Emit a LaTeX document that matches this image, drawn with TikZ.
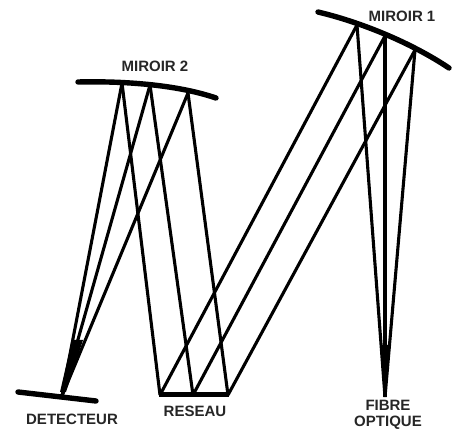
\documentclass[tikz,border=0pt]{standalone}
\usepackage{fontspec}
\setmainfont{Liberation Sans}
\tikzset{
  ray/.style={line width=3.1pt,black},
  mirror/.style={line width=5.4pt,black,line cap=round},
  lab/.style={font=\fontsize{15}{16.5}\selectfont\bfseries,text=black!85,inner sep=0pt,align=center}
}
\begin{document}
\begin{tikzpicture}[x=1pt,y=-1pt]
\useasboundingbox (0,0) rectangle (453,430);
% mirror 1 points
\coordinate (m1a) at (357,25);
\coordinate (m1b) at (385,36);
\coordinate (m1c) at (415,50);
% mirror 2 points
\coordinate (m2a) at (122,83);
\coordinate (m2b) at (150,85);
\coordinate (m2c) at (188,93);
% grating points
\coordinate (ga) at (160,395);
\coordinate (gb) at (193,395);
\coordinate (gc) at (228,395);
\coordinate (det) at (62,396);
\coordinate (fib) at (385,397);
% rays
\foreach \s/\e in {fib/m1a,fib/m1b,fib/m1c,m1a/ga,m1b/gb,m1c/gc,ga/m2a,gb/m2b,gc/m2c,m2a/det,m2b/det,m2c/det}
  \draw[ray] (\s) -- (\e);
% converging wedges where the beams merge
\fill (380.5,345) -- (389.5,345) -- (385.5,397) -- (384.5,397) -- cycle;
\fill (72,340) -- (83,340) -- (66,392) -- (60,392) -- cycle;
% optics
\draw[mirror] (318,12) .. controls (360,22) and (410,42) .. (449,68);
\draw[mirror] (78,82) .. controls (120,81) and (175,84) .. (216,98);
\draw[mirror] (18,392) -- (96,401);
\draw[line width=5pt] (159,395) -- (229,395);
% labels
\node[lab] (miroir1) at (402,16) {MIROIR 1};
\node[lab] (miroir2) at (155,66) {MIROIR 2};
\node[lab] (detecteur) at (72,419) {DETECTEUR};
\node[lab] (reseau) at (195,411) {RESEAU};
\node[lab] (fibre) at (388,415) {FIBRE\\OPTIQUE};
\end{tikzpicture}
\end{document}
